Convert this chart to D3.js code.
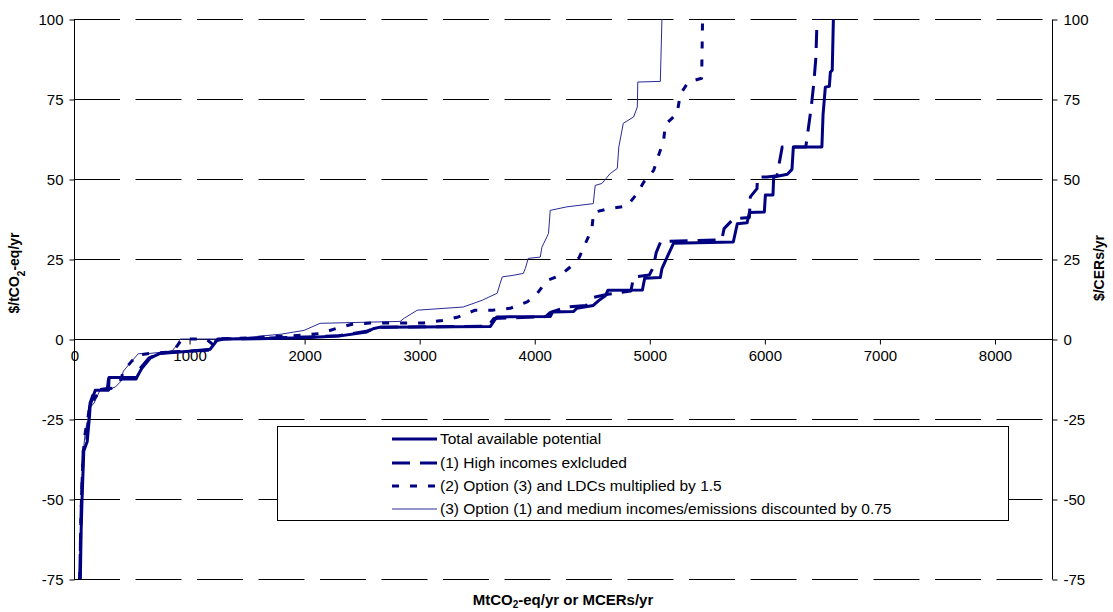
<!DOCTYPE html>
<html>
<head>
<meta charset="utf-8">
<script src="https://cdn.jsdelivr.net/npm/d3@7/dist/d3.min.js"></script>
<style>
  body { margin: 0; background: #fff; }
  text { font-family: "Liberation Sans", Arial, sans-serif; fill: #000; }
</style>
</head>
<body>
<script>
// ticks
const xTicks = [0, 1000, 2000, 3000, 4000, 5000, 6000, 7000, 8000];
const yTicks = [-75, -50, -25, 0, 25, 50, 75, 100];

// curves: [MtCO2-eq/yr, $/tCO2-eq]
const totalPotential = [
  [55,-75],[62,-60],[70,-50],[80,-40],[85,-35],[100,-33.5],[115,-32],[125,-28],[135,-24],[140,-21],
  [155,-19],[170,-17.5],[185,-16],[300,-16],[305,-12],[545,-12],[588,-9.2],[661,-6],[748,-4.5],
  [861,-4.2],[1000,-3.8],[1183,-3.2],[1241,-0.5],[1300,0],[1600,0.1],[2000,0.4],[2300,0.9],
  [2545,2.2],[2600,3.2],[2661,3.7],[3617,3.9],[3675,6.9],[4139,7],[4160,8.4],[4342,8.6],[4370,9.6],
  [4513,10.5],[4560,12],[4620,13.6],[4640,15.2],[4940,15.3],[4960,19],[5096,19.2],[5110,22],
  [5150,25.2],[5210,29.9],[5730,30.3],[5765,36],[5850,36.3],[5870,39.5],[6000,39.7],[6009,45],
  [6075,45],[6081,50.6],[6200,51.5],[6240,53],[6252,60],[6500,60],[6510,70],[6530,78.7],
  [6565,79],[6574,83.4],[6590,84],[6600,100]
];
const highIncomesExcluded = [
  [50,-75],[58,-60],[65,-50],[75,-40],[80,-35],[95,-33],[110,-32],[120,-27],[130,-23],[140,-20],
  [160,-18],[180,-16],[290,-15.5],[300,-12.5],[540,-12.5],[580,-9],[650,-6],[740,-4.5],[860,-4],
  [1165,-3.5],[1200,-2],[1250,0],[1600,0.2],[2000,0.6],[2300,1],[2540,2.4],[2640,3.7],[3600,4],
  [3648,6.4],[4100,7],[4140,8.3],[4284,10],[4450,10.5],[4513,13],[4640,14],[4840,15],[4864,19.4],
  [5000,20],[5035,22.4],[5060,27],[5100,30.5],[5630,31],[5650,34.5],[5733,37.6],[5870,38],
  [5878,44.4],[5936,47],[5940,50.6],[6023,50.6],[6110,51],[6150,59],[6155,60],[6360,60],
  [6383,66],[6406,72],[6430,80],[6448,88],[6458,100]
];
const ldcMultiplied = [
  [50,-75],[58,-60],[65,-50],[75,-40],[82,-35],[95,-30],[105,-27.5],[120,-25],[135,-21],[170,-19],
  [210,-17],[226,-16],[320,-15.5],[400,-13.5],[430,-10],[500,-7],[559,-5],[661,-4.5],[850,-4],
  [900,-2],[940,0],[1150,0],[1200,-1.5],[1230,0],[1500,0.3],[1991,1.2],[2139,1.7],[2287,3.4],
  [2417,4.6],[2574,5],[3035,5],[3200,5.8],[3339,6.9],[3487,9],[3635,9],[3791,9.6],[3939,11.6],
  [4023,14.1],[4110,18.3],[4226,19.9],[4313,22.5],[4391,25.5],[4443,29.7],[4501,34.4],[4516,39.6],
  [4661,40.8],[4806,41.5],[4893,45.4],[4951,49],[5038,52.7],[5081,57.4],[5125,62.1],[5139,67],
  [5241,70.4],[5270,76.5],[5339,80.3],[5455,81.5],[5463,100]
];
const mediumDiscounted = [
  [50,-75],[58,-60],[65,-50],[75,-40],[82,-35],[95,-30],[105,-27.5],[120,-26],[130,-22],[150,-21],
  [175,-20],[200,-18],[226,-16],[320,-15.5],[360,-15],[400,-13.5],[430,-10],[500,-7],[559,-4.6],
  [661,-4.5],[850,-3.8],[893,-2],[922,0],[1300,0],[1500,0.5],[1800,1.5],[2000,2.7],[2139,4.9],
  [2835,5.5],[2870,6.5],[2983,9],[3383,10],[3548,12.1],[3600,13],[3678,14.3],[3704,17.4],
  [3722,19.4],[3817,19.9],[3905,20.5],[3922,22],[3948,25.2],[4052,25.6],[4067,28.7],[4110,31.9],
  [4124,33],[4139,40.2],[4284,41.3],[4513,42.3],[4530,48],[4588,48.6],[4660,51.7],[4722,53.3],
  [4735,60],[4774,67.4],[4864,69.4],[4896,72.5],[4900,80.3],[5096,80.5],[5110,100]
];

const seriesNames = [
  "Total available potential",
  "(1) High incomes exlcluded",
  "(2) Option (3) and LDCs multiplied by 1.5",
  "(3) Option (1) and medium incomes/emissions discounted by 0.75"
];

const width = 1113, height = 612;
const plotLeft = 74, plotRight = 1052, plotTop = 19, plotBottom = 579;

const svg = d3.select("body").append("svg")
    .attr("width", width)
    .attr("height", height);

const x = d3.scaleLinear().domain([0, 8500]).range([plotLeft, plotRight]);
const y = d3.scaleLinear().domain([-75, 100]).range([plotBottom, plotTop]);
const plain = function(d) { return String(d); };

// dashed grid lines
svg.append("g")
    .selectAll("line")
    .data(yTicks.filter(d => d !== 0))
    .join("line")
    .attr("x1", plotLeft).attr("x2", plotRight)
    .attr("y1", d => Math.round(y(d)) + 0.5)
    .attr("y2", d => Math.round(y(d)) + 0.5)
    .attr("stroke", "#000")
    .attr("stroke-width", 1)
    .attr("stroke-dasharray", "46,15.5");

// left axis
const yAxisL = svg.append("g")
    .attr("transform", "translate(" + (plotLeft + 0.5) + ",0.5)")
    .call(d3.axisLeft(y).tickValues(yTicks).tickSize(5).tickPadding(6).tickFormat(plain));

// right axis
const yAxisR = svg.append("g")
    .attr("transform", "translate(" + (plotRight + 0.5) + ",0.5)")
    .call(d3.axisRight(y).tickValues(yTicks).tickSize(5).tickPadding(6).tickFormat(plain));

// x axis on the zero line
const xAxis = svg.append("g")
    .attr("transform", "translate(0.5," + (Math.round(y(0)) + 0.5) + ")")
    .call(d3.axisBottom(x).tickValues(xTicks).tickSize(5).tickPadding(6).tickFormat(plain));

[yAxisL, yAxisR, xAxis].forEach(function(a) {
    a.select(".domain").remove();
    a.selectAll("text").style("font-size", "15px").attr("fill", "#000");
    a.selectAll("line").attr("stroke", "#000");
});
yAxisL.append("line").attr("y1", plotTop).attr("y2", plotBottom).attr("stroke", "#000");
yAxisR.append("line").attr("y1", plotTop).attr("y2", plotBottom).attr("stroke", "#000");
xAxis.append("line").attr("x1", plotLeft).attr("x2", plotRight).attr("stroke", "#000");
xAxis.selectAll(".tick").filter(d => d === 0).select("line").remove();

// curves
const lineFunction = d3.line()
    .x(function(d) { return x(d[0]); })
    .y(function(d) { return y(d[1]); })
    .curve(d3.curveLinear);

const styles = [
    { data: totalPotential, w: 3, dash: null, color: "#000080" },
    { data: highIncomesExcluded, w: 3, dash: "18,10", color: "#000080" },
    { data: ldcMultiplied, w: 3, dash: "7,11", color: "#000080" },
    { data: mediumDiscounted, w: 1, dash: null, color: "#2a2a96" }
];

styles.slice().reverse().forEach(function(s) {
    svg.append("path")
        .attr("d", lineFunction(s.data))
        .attr("fill", "none")
        .attr("stroke", s.color)
        .attr("stroke-width", s.w)
        .attr("stroke-dasharray", s.dash)
        .attr("stroke-linejoin", "round");
});

// legend
const legend = svg.append("g");
legend.append("rect")
    .attr("x", 277.5).attr("y", 426.5)
    .attr("width", 731).attr("height", 94)
    .attr("fill", "#fff")
    .attr("stroke", "#000");

const rowY = [439, 463, 486, 509];
styles.forEach(function(s, i) {
    legend.append("line")
        .attr("x1", 392).attr("x2", 437)
        .attr("y1", rowY[i]).attr("y2", rowY[i])
        .attr("stroke", s.color)
        .attr("stroke-width", s.w)
        .attr("stroke-dasharray", s.dash);
    legend.append("text")
        .attr("x", 440).attr("y", rowY[i])
        .attr("dy", "0.35em")
        .style("font-size", "15.5px")
        .text(seriesNames[i]);
});

// axis titles
const tl = svg.append("text")
    .attr("transform", "translate(19,273) rotate(-90)")
    .attr("text-anchor", "middle")
    .style("font-size", "14px")
    .style("font-weight", "bold");
tl.append("tspan").text("$/tCO");
tl.append("tspan").text("2").attr("baseline-shift", "sub").style("font-size", "10px");
tl.append("tspan").text("-eq/yr");

svg.append("text")
    .attr("transform", "translate(1104,268) rotate(-90)")
    .attr("text-anchor", "middle")
    .style("font-size", "14px")
    .style("font-weight", "bold")
    .text("$/CERs/yr");

const tb = svg.append("text")
    .attr("x", 563).attr("y", 605)
    .attr("text-anchor", "middle")
    .style("font-size", "15px")
    .style("font-weight", "bold");
tb.append("tspan").text("MtCO");
tb.append("tspan").text("2").attr("dy", 3).style("font-size", "10px");
tb.append("tspan").text("-eq/yr or MCERs/yr").attr("dy", -3);
</script>
</body>
</html>
